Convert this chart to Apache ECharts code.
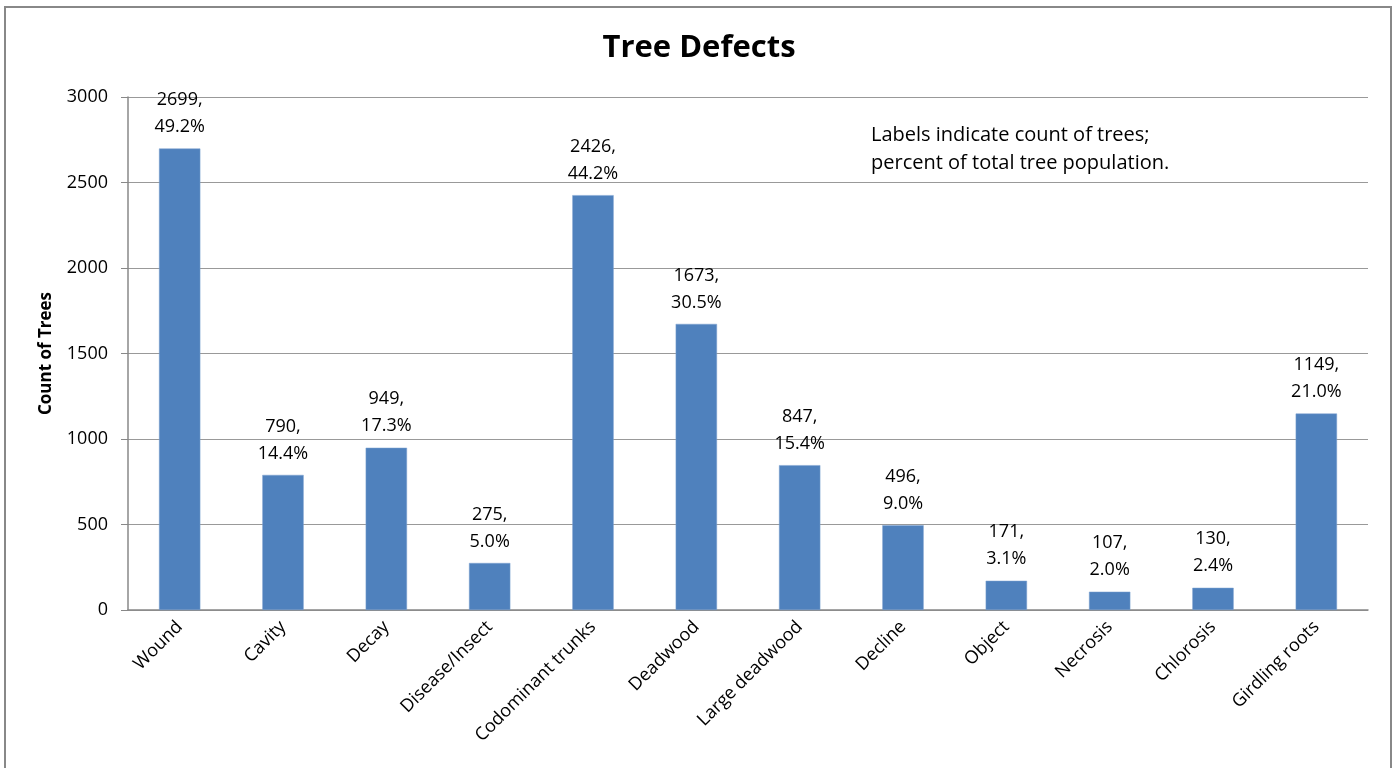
<!DOCTYPE html>
<html>
<head>
<meta charset="utf-8">
<script src="https://cdn.jsdelivr.net/npm/echarts@6/dist/echarts.min.js"></script>
<style>
  html, body { margin: 0; padding: 0; background: #fff; }
  #chart { width: 1398px; height: 768px; }
</style>
</head>
<body>
<div id="chart"></div>
<script>
// Tree defect categories and counts
const categories = ['Wound', 'Cavity', 'Decay', 'Disease/Insect', 'Codominant trunks', 'Deadwood',
  'Large deadwood', 'Decline', 'Object', 'Necrosis', 'Chlorosis', 'Girdling roots'];
const counts = [2699, 790, 949, 275, 2426, 1673, 847, 496, 171, 107, 130, 1149];
const percents = ['49.2', '14.4', '17.3', '5.0', '44.2', '30.5', '15.4', '9.0', '3.1', '2.0', '2.4', '21.0'];
const yTicks = [0, 500, 1000, 1500, 2000, 2500, 3000];

const font = '"Open Sans", "Noto Sans", sans-serif';
const chart = echarts.init(document.getElementById('chart'));

chart.setOption({
  animation: false,
  backgroundColor: '#fff',
  title: {
    text: 'Tree Defects',
    left: 'center',
    top: 28,
    textStyle: { fontFamily: font, fontSize: 31, fontWeight: 'bold', color: '#000' }
  },
  graphic: [
    {
      type: 'rect',
      shape: { x: 5, y: 7, width: 1386, height: 780 },
      style: { fill: 'none', stroke: '#888', lineWidth: 2 },
      silent: true
    },
    {
      type: 'text',
      left: 871,
      top: 121,
      style: {
        text: 'Labels indicate count of trees;\npercent of total tree population.',
        font: '20px ' + font,
        lineHeight: 28,
        fill: '#000'
      }
    }
  ],
  grid: { left: 128, right: 30, top: 97, bottom: 158 },
  xAxis: {
    type: 'category',
    data: categories,
    axisLine: { lineStyle: { color: '#888', width: 1.5 } },
    axisTick: { show: false },
    axisLabel: {
      rotate: 45,
      interval: 0,
      margin: 14,
      fontFamily: font,
      fontSize: 18,
      color: '#000'
    }
  },
  yAxis: {
    type: 'value',
    min: yTicks[0],
    max: yTicks[yTicks.length - 1],
    interval: 500,
    name: 'Count of Trees',
    nameLocation: 'middle',
    nameGap: 73,
    nameTextStyle: { fontFamily: font, fontSize: 17, fontWeight: 'bold', color: '#000' },
    axisLine: { show: true, lineStyle: { color: '#888', width: 1.5 } },
    axisTick: { show: true, length: 7, lineStyle: { color: '#888' } },
    axisLabel: { margin: 20, fontFamily: font, fontSize: 18, color: '#000', formatter: v => String(v) },
    splitLine: { lineStyle: { color: '#999', width: 1 } }
  },
  series: [{
    type: 'bar',
    data: counts,
    barWidth: '40%',
    itemStyle: { color: '#4F81BD', borderColor: '#7FA3D0', borderWidth: 0.5 },
    label: {
      show: true,
      position: 'top',
      distance: 8,
      fontFamily: font,
      fontSize: 18,
      lineHeight: 27,
      color: '#000',
      formatter: p => p.value + ',\n' + percents[p.dataIndex] + '%'
    }
  }]
});
</script>
</body>
</html>
